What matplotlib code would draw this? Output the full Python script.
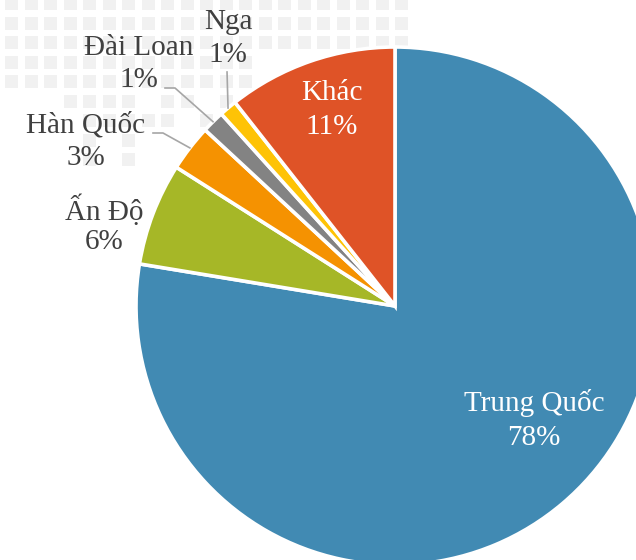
import numpy as np
import matplotlib
matplotlib.use("Agg")
import matplotlib.pyplot as plt

# data
countries = ['Trung Quốc', 'Ấn Độ', 'Hàn Quốc', 'Đài Loan', 'Nga', 'Khác']
shares = [77.6, 6.4, 2.9, 1.4, 1.1, 10.6]
colors = ['#418AB3', '#A6B727', '#F59201', '#838383', '#FEC306', '#DF5327']

W, H = 636, 560
plt.rcParams['font.family'] = ['Liberation Serif', 'DejaVu Serif']

fig = plt.figure(figsize=(W / 100, H / 100), dpi=100)
ax = fig.add_axes([0, 0, 1, 1])


def py(y):
    # image row -> axes y
    return H - y


# faint square pattern in the background (decoration)
for row in range(9):
    for col in range(21):
        x0 = 5 + col * 19.5
        y0 = -3 + row * 19.5
        if row <= 2 and x0 < 400:
            pass
        elif row <= 4 and x0 < 240:
            pass
        elif row <= 6 and 60 < x0 < 220 and (row + col) % 3 != 0:
            pass
        elif row <= 8 and 80 < x0 < 150 and (col % 2 == 0):
            pass
        else:
            continue
        ax.add_patch(plt.Rectangle((x0, py(y0 + 13)), 13, 13,
                                   color='#f1f1f1', lw=0, zorder=0))

cx, cy, r = 395, py(306), 259
wedges, _ = ax.pie(shares, colors=colors, startangle=90, counterclock=False,
                   center=(cx, cy), radius=r, frame=False,
                   wedgeprops=dict(edgecolor='white', linewidth=2.6))

fs = 21
pct = [f"{round(v)}%" for v in shares]

# inside labels (white)
inside = {0: (534, 403, 438), 5: (332, 93, 127)}
for i, (x, y1, y2) in inside.items():
    ax.text(x, py(y1), countries[i], color='white', fontsize=fs,
            ha='center', va='center')
    ax.text(x, py(y2), pct[i], color='white', fontsize=fs,
            ha='center', va='center')

# outside labels (dark gray)
outside = {1: (104, 210, 242), 2: (86, 125, 158), 3: (139, 48, 80),
           4: (228, 22, 55)}
for i, (x, y1, y2) in outside.items():
    ax.text(x, py(y1), countries[i], color='#404040', fontsize=fs,
            ha='center', va='center')
    ax.text(x, py(y2), pct[i], color='#404040', fontsize=fs,
            ha='center', va='center')

# leader lines to small slices
leader_start = {2: [(153, 133), (163, 133)], 3: [(165, 88), (175, 88)],
                4: [(227, 72)]}
for i, pts in leader_start.items():
    w = wedges[i]
    mid = np.deg2rad((w.theta1 + w.theta2) / 2)
    ex, ey = cx + r * np.cos(mid), cy + r * np.sin(mid)
    xs = [p[0] for p in pts] + [ex]
    ys = [py(p[1]) for p in pts] + [ey]
    if i == 4:
        xs[0] = ex - 1
    ax.plot(xs, ys, color='#a6a6a6', lw=1.2, zorder=3)

ax.set_xlim(0, W)
ax.set_ylim(0, H)
ax.set_aspect('equal')
ax.axis('off')

fig.savefig('out.png', dpi=100)
